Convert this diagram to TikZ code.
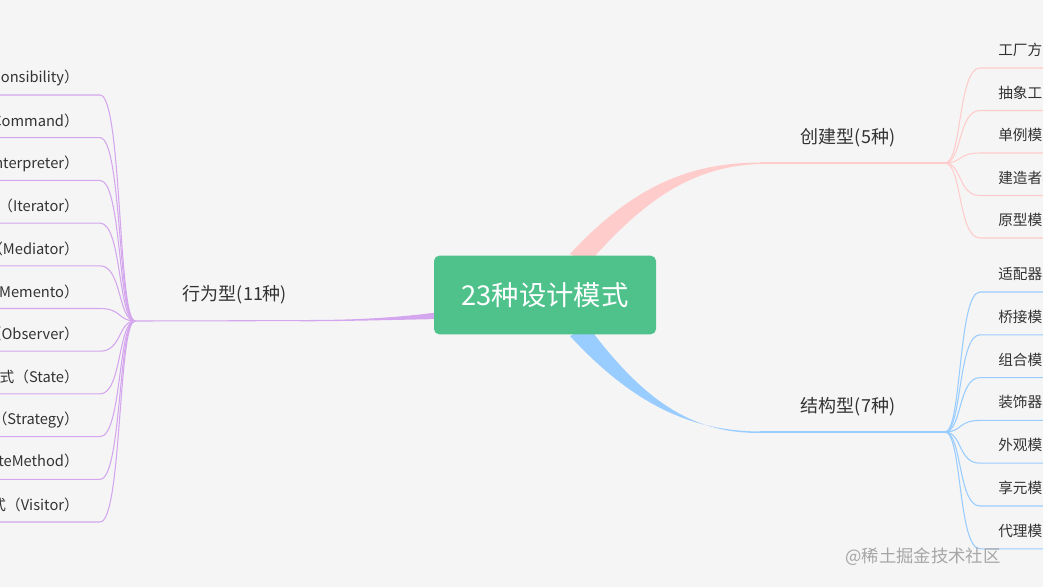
\documentclass[tikz,border=0pt]{standalone}
\usepackage{fontspec}
\setmainfont{Noto Sans CJK SC}
\definecolor{bg}{HTML}{F5F5F5}
\definecolor{grn}{HTML}{4FC28C}
\definecolor{pk}{HTML}{FFCCCC}
\definecolor{bl}{HTML}{99CCFF}
\definecolor{pu}{HTML}{D4A6EE}
\definecolor{tx}{HTML}{333333}
\begin{document}
\begin{tikzpicture}[x=0.75pt,y=-0.75pt,
  leaf/.style={font=\fontsize{11}{13}\selectfont,text=tx,inner sep=0pt},
  mid/.style={font=\fontsize{13.5}{15}\selectfont,text=tx,inner sep=0pt},
  lk/.style={line width=0.8pt}]
\useasboundingbox (0,0) rectangle (1043,587);
\clip (0,0) rectangle (1043,587);
\fill[bg] (0,0) rectangle (1043,587);
% thick branches
\fill[pk] (570,254) .. controls (640,178) and (700,163) .. (760,162.5) -- (760,164) .. controls (700,166) and (650,192) .. (588,264) -- cycle;
\fill[bl] (570,336) .. controls (640,412) and (700,431) .. (760,431.5) -- (760,433) .. controls (700,433) and (650,410) .. (588,326) -- cycle;
\fill[pu] (440,312) .. controls (380,320) and (330,320) .. (300,320) -- (300,321.3) .. controls (340,321.3) and (390,320) .. (440,319) -- cycle;
% center
\node[fill=grn,rounded corners=4pt,minimum width=166.5pt,minimum height=59pt,text=white,font=\fontsize{20.5}{24}\selectfont] (root) at (545,295) {23种设计模式};
% mid labels
\node[mid] (c) at (848,138) {创建型(5种)};
\node[mid] (s) at (848,407) {结构型(7种)};
\node[mid] (b) at (235,295) {行为型(11种)};
\coordinate (cf) at (945,163);
\coordinate (sf) at (945,432);
\coordinate (bf) at (135,321);
\draw[pk,lk] (760,163) -- (cf);
\draw[bl,lk] (760,432) -- (sf);
\draw[pu,lk] (300,320.6) -- (bf);
\foreach \t [count=\i] in {工厂方法模式,抽象工厂模式,单例模式,建造者模式,原型模式}{
  \pgfmathsetmacro\yl{68+42.5*(\i-1)}
  \node[leaf,anchor=west] (c\i) at (998,\yl-18) {\t};
  \draw[pk,lk] (cf) .. controls (962,163) and (958,\yl) .. (980,\yl) -- (1050,\yl);
}
\foreach \t [count=\i] in {适配器模式,桥接模式,组合模式,装饰器模式,外观模式,享元模式,代理模式}{
  \pgfmathsetmacro\yl{292+42.8*(\i-1)}
  \node[leaf,anchor=west] (s\i) at (998,\yl-18) {\t};
  \draw[bl,lk] (sf) .. controls (962,432) and (958,\yl) .. (980,\yl) -- (1050,\yl);
}
\foreach \t [count=\i] in {职责链模式（Chain of Responsibility）,命令模式（Command）,解释器模式（Interpreter）,迭代器模式（Iterator）,中介者模式（Mediator）,备忘录模式（Memento）,观察者模式（Observer）,状态模式（State）,策略模式（Strategy）,模板方法模式（TemplateMethod）,访问者模式（Visitor）}{
  \pgfmathsetmacro\yl{95+42.7*(\i-1)}
  \node[leaf,anchor=east] (b\i) at (79,\yl-17) {\t};
  \draw[pu,lk] (bf) .. controls (118,321) and (122,\yl) .. (100,\yl) -- (-10,\yl);
}
\node[text=gray!70,font=\fontsize{13}{15}\selectfont,anchor=west,inner sep=0pt] (wm) at (845,557) {@稀土掘金技术社区};
\end{tikzpicture}
\end{document}
